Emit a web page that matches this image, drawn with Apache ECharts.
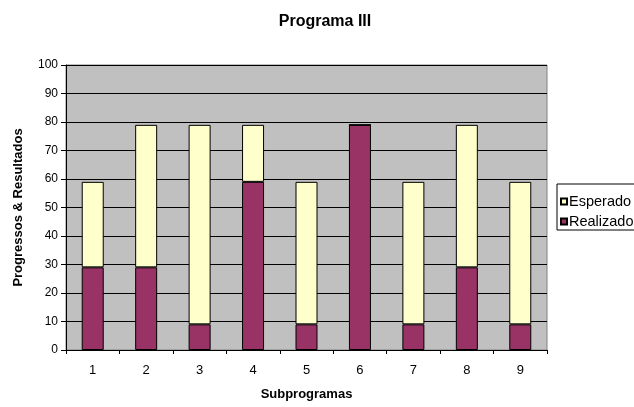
<!DOCTYPE html>
<html>
<head>
<meta charset="utf-8">
<script src="https://cdn.jsdelivr.net/npm/echarts@6/dist/echarts.min.js"></script>
<style>html,body{margin:0;padding:0;background:#fff;}#c{width:634px;height:407px;}</style>
</head>
<body>
<div id="c"></div>
<script>
const categories = ['1','2','3','4','5','6','7','8','9'];
const realizado = [29, 29, 9, 59, 9, 79, 9, 29, 9];
const esperadoTotal = [59, 79, 79, 79, 59, 79, 59, 79, 59];
const yTicks = [0,10,20,30,40,50,60,70,80,90,100];

const esperadoExtra = esperadoTotal.map((t, i) => Math.max(0, t - realizado[i]));
const font = 'Liberation Sans, Arial, sans-serif';

const chart = echarts.init(document.getElementById('c'), null, {renderer: 'canvas'});
chart.setOption({
  animation: false,
  backgroundColor: '#ffffff',
  title: {
    text: 'Programa III',
    left: 320, top: 9, textAlign: 'center',
    textStyle: {fontFamily: font, fontSize: 16, fontWeight: 'bold', color: '#000'}
  },
  legend: {
    data: ['Esperado', 'Realizado'],
    orient: 'vertical',
    left: 557, top: 184,
    backgroundColor: '#fff',
    borderColor: '#000', borderWidth: 1,
    padding: [10, 4, 1, 3],
    itemWidth: 6, itemHeight: 6, itemGap: 5,
    icon: 'rect',
    textStyle: {fontFamily: font, fontSize: 14.5, color: '#000', padding: [0,0,0,-3]}
  },
  grid: {
    left: 66, right: 87, top: 65, bottom: 57,
    show: true, backgroundColor: '#C0C0C0', borderColor: '#808080', borderWidth: 1,
    containLabel: false
  },
  xAxis: {
    type: 'category',
    data: categories,
    name: 'Subprogramas',
    nameLocation: 'middle', nameGap: 38,
    nameTextStyle: {fontFamily: font, fontSize: 13, fontWeight: 'bold', color: '#000'},
    axisLine: {lineStyle: {color: '#000', width: 1}},
    axisTick: {show: true, length: 4, lineStyle: {color: '#000'}},
    axisLabel: {fontFamily: font, fontSize: 13, color: '#000', margin: 14},
    splitLine: {show: false}
  },
  yAxis: {
    type: 'value',
    min: yTicks[0], max: yTicks[yTicks.length - 1], interval: 10,
    name: 'Progressos & Resultados',
    nameLocation: 'middle', nameGap: 41,
    nameTextStyle: {fontFamily: font, fontSize: 13, fontWeight: 'bold', color: '#000'},
    axisLine: {show: true, lineStyle: {color: '#000', width: 1}},
    axisTick: {show: true, length: 5, lineStyle: {color: '#000'}},
    axisLabel: {fontFamily: font, fontSize: 12, color: '#000', margin: 8},
    splitLine: {show: true, lineStyle: {color: '#000', width: 1}}
  },
  series: [
    {
      name: 'Realizado', type: 'bar', stack: 'a',
      data: realizado, barWidth: 22,
      itemStyle: {color: '#993366', borderColor: '#000', borderWidth: 1}
    },
    {
      name: 'Esperado', type: 'bar', stack: 'a',
      data: esperadoExtra, barWidth: 22,
      itemStyle: {color: '#FFFFCC', borderColor: '#000', borderWidth: 1}
    }
  ]
});
</script>
</body>
</html>
